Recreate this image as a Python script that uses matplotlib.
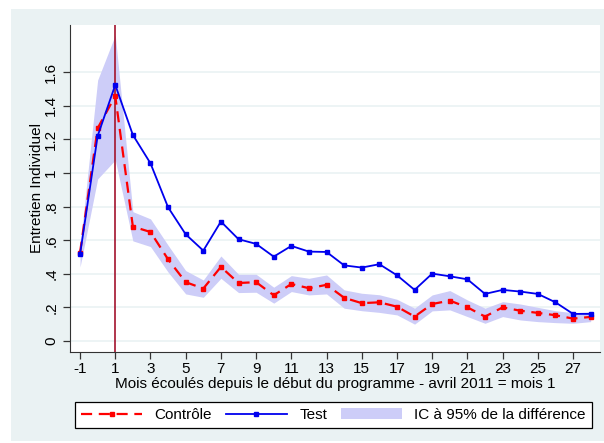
import numpy as np
import matplotlib.pyplot as plt
from matplotlib.patches import Rectangle, Patch
from matplotlib.lines import Line2D

plt.rcParams['font.family'] = ['Liberation Sans', 'DejaVu Sans']
plt.rcParams['axes.unicode_minus'] = False

# -------------------------------------------------------
# Data (months since programme start)
# -------------------------------------------------------
months = list(range(-1, 29))

test = [0.516, 1.221, 1.525, 1.227, 1.058, 0.796, 0.635, 0.538,
        0.711, 0.606, 0.578, 0.502, 0.566, 0.532, 0.530, 0.450,
        0.437, 0.457, 0.391, 0.304, 0.401, 0.385, 0.367, 0.280,
        0.304, 0.294, 0.280, 0.230, 0.161, 0.161]

controle = [0.526, 1.267, 1.459, 0.681, 0.649, 0.486, 0.350, 0.312,
            0.441, 0.345, 0.350, 0.272, 0.339, 0.314, 0.334, 0.257,
            0.225, 0.230, 0.204, 0.145, 0.220, 0.240, 0.200, 0.145,
            0.200, 0.180, 0.167, 0.153, 0.133, 0.143]

ci_low = [0.440, 0.965, 1.078, 0.596, 0.562, 0.410, 0.280, 0.260,
          0.373, 0.288, 0.290, 0.225, 0.294, 0.274, 0.280, 0.195,
          0.180, 0.170, 0.155, 0.100, 0.179, 0.185, 0.145, 0.105,
          0.145, 0.125, 0.115, 0.109, 0.105, 0.115]

ci_high = [0.560, 1.554, 1.822, 0.770, 0.727, 0.570, 0.419, 0.363,
           0.506, 0.397, 0.397, 0.320, 0.389, 0.373, 0.393, 0.304,
           0.284, 0.275, 0.248, 0.195, 0.274, 0.300, 0.244, 0.195,
           0.234, 0.220, 0.200, 0.180, 0.168, 0.174]

xticks = list(range(-1, 28, 2))
yticks = [0, 0.2, 0.4, 0.6, 0.8, 1.0, 1.2, 1.4, 1.6]
ytick_labels = ["0", ".2", ".4", ".6", ".8", "1", "1.2", "1.4", "1.6"]

BAND = "#cdcdf8"
PANEL = "#eaf2f3"

fig = plt.figure(figsize=(6.04, 4.43), dpi=100)
fig.patch.set_facecolor("white")
# light outer panel (Stata-style)
fig.patches.append(Rectangle((0.0182, 0.0045), 0.99, 0.9752,
                             transform=fig.transFigure, facecolor=PANEL,
                             edgecolor="none", zorder=-10))

ax = fig.add_axes([0.1159, 0.2054, 0.8775, 0.7382])
ax.set_facecolor("white")

ax.fill_between(months, ci_low, ci_high, color=BAND, lw=0, zorder=1)
ax.axvline(1, color="#a3132d", lw=1.2, zorder=2)
ax.plot(months, test, color="#0000ee", lw=1.3, marker="s", ms=2.6,
        zorder=4)
ax.plot(months, controle, color="#ff0000", lw=1.6, ls=(0, (5, 3)),
        marker="s", ms=2.6, zorder=3)

ax.set_xlim(-1.57, 28.53)
ax.set_ylim(-0.066, 1.882)
ax.set_xticks(xticks)
ax.set_yticks(yticks)
ax.set_yticklabels(ytick_labels, rotation=90, va="center")
ax.grid(axis="y", color=PANEL, lw=1.2)
ax.set_axisbelow(True)

for s in ["top", "right"]:
    ax.spines[s].set_visible(False)
for s in ["left", "bottom"]:
    ax.spines[s].set_color("#333333")
ax.tick_params(direction="out", length=5, width=0.9, color="#333333",
               labelsize=11)
ax.tick_params(axis="x", pad=2)

ax.set_xlabel("Mois écoulés depuis le début du programme - avril 2011 = mois 1",
              fontsize=11, labelpad=1)
ax.set_ylabel("Entretien Individuel", fontsize=11, labelpad=0)

handles = [
    Line2D([], [], color="#ff0000", lw=1.6, ls=(0, (5, 3)), marker="s",
           ms=2.6),
    Line2D([], [], color="#0000ee", lw=1.3, marker="s", ms=2.6),
    Patch(facecolor=BAND, edgecolor="none"),
]
labels = ["Contrôle", "Test", "IC à 95% de la différence"]
leg = fig.legend(handles, labels, ncol=3, loc="center",
                 bbox_to_anchor=(0.124, 0.0316, 0.856, 0.063),
                 mode="expand", fontsize=11, handlelength=4.0,
                 frameon=True, fancybox=False, borderaxespad=0,
                 columnspacing=1.5, handletextpad=0.8)
leg.get_frame().set_edgecolor("black")
leg.get_frame().set_linewidth(0.9)
leg.get_frame().set_alpha(1)

fig.savefig("out.png", dpi=100, facecolor=fig.get_facecolor())
